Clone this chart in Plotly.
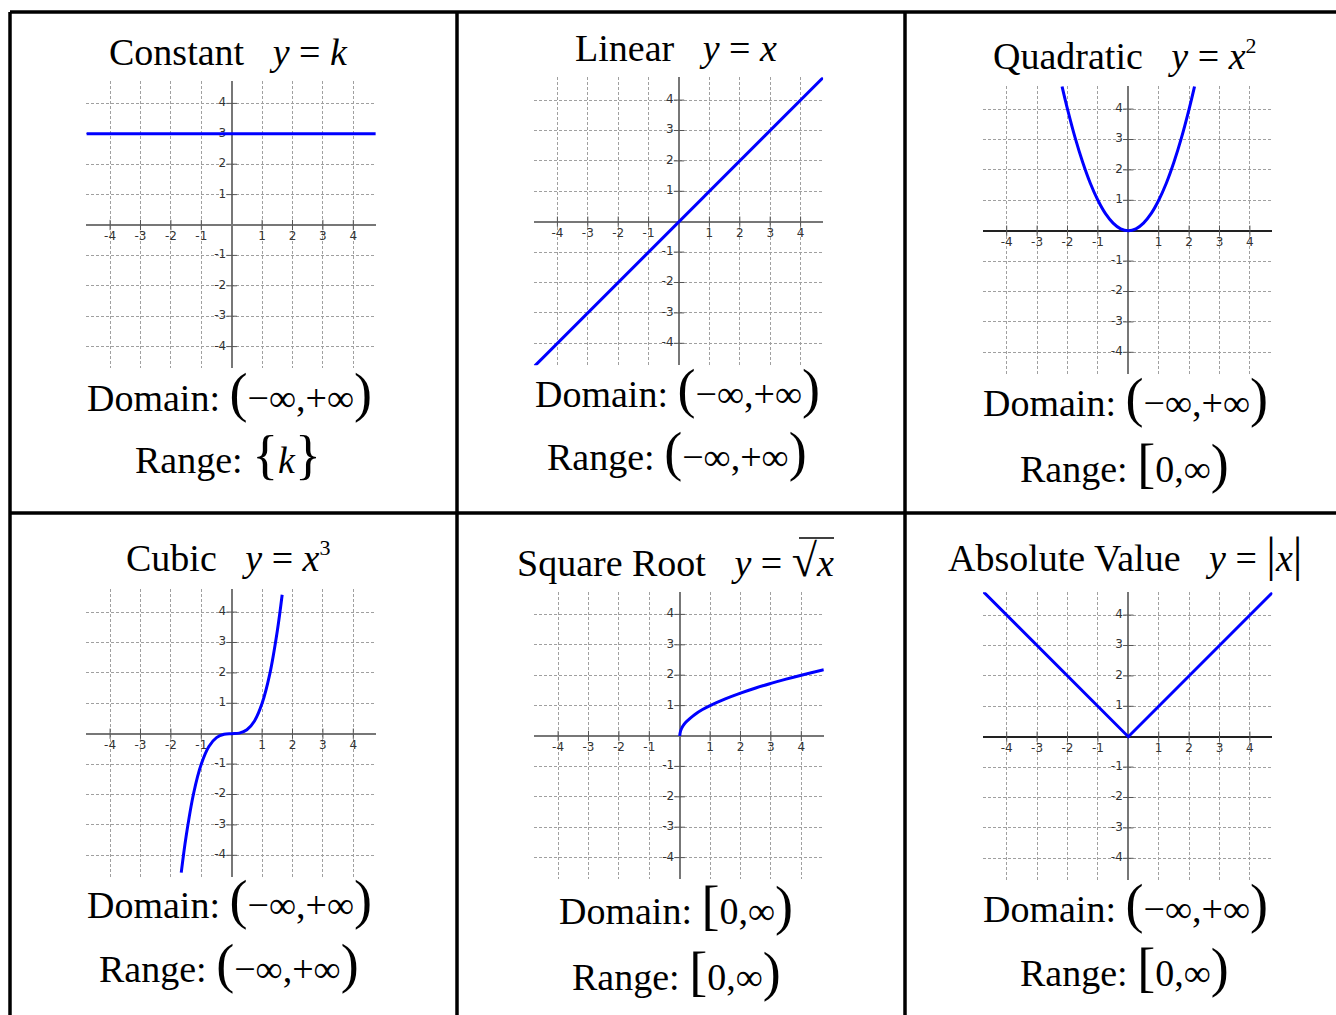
import plotly.graph_objects as go

# curve samples
constant_x = [-4.78, 4.74]
constant_y = [3, 3]

linear_x = [-4.75, 4.74]
linear_y = [-4.75, 4.74]

quadratic_x = [-2.18, -2, -1.75, -1.5, -1.25, -1, -0.75, -0.5, -0.25, 0, 0.25, 0.5, 0.75, 1, 1.25, 1.5, 1.75, 2, 2.18]
quadratic_y = [4.75, 4, 3.06, 2.25, 1.56, 1, 0.56, 0.25, 0.06, 0, 0.06, 0.25, 0.56, 1, 1.56, 2.25, 3.06, 4, 4.75]

cubic_x = [-1.66, -1.5, -1.25, -1, -0.75, -0.5, -0.25, 0, 0.25, 0.5, 0.75, 1, 1.25, 1.5, 1.66]
cubic_y = [-4.57, -3.38, -1.95, -1, -0.42, -0.13, -0.02, 0, 0.02, 0.13, 0.42, 1, 1.95, 3.38, 4.57]

sqrt_x = [0, 0.03, 0.1, 0.2, 0.35, 0.5, 0.75, 1, 1.5, 2, 2.5, 3, 3.5, 4, 4.74]
sqrt_y = [0, 0.17, 0.32, 0.45, 0.59, 0.71, 0.87, 1, 1.22, 1.41, 1.58, 1.73, 1.87, 2, 2.18]

abs_x = [-4.78, 0, 4.74]
abs_y = [4.78, 0, 4.74]

tick_vals = [-4, -3, -2, -1, 1, 2, 3, 4]
tick_text = ["-4", "-3", "-2", "-1", "1", "2", "3", "4"]

SUP = "<sup><span style='font-size:22px'>%s</span></sup>"
titles = [
    "Constant\u2002 <i>y</i> = <i>k</i>",
    "Linear\u2002 <i>y</i> = <i>x</i>",
    "Quadratic\u2002 <i>y</i> = <i>x</i>" + SUP % "2",
    "Cubic\u2002 <i>y</i> = <i>x</i>" + SUP % "3",
    "Square Root\u2002 <i>y</i> = <span style='font-size:46px'>\u221a</span><i>x</i>",
    "Absolute Value\u2002 <i>y</i> = <span style='font-size:48px'>|</span><i>x</i><span style='font-size:48px'>|</span>",
]

BIG = "<span style='font-size:54px'>%s</span>"
all_reals = BIG % "(" + "\u2212\u221e,+\u221e" + BIG % ")"
half_line = BIG % "[" + "0,\u221e" + BIG % ")"
domains = [all_reals, all_reals, all_reals, all_reals, half_line, all_reals]
ranges = [BIG % "{" + "<i>k</i>" + BIG % "}", all_reals, half_line, all_reals, half_line, half_line]

curves = [
    (constant_x, constant_y, "linear"),
    (linear_x, linear_y, "linear"),
    (quadratic_x, quadratic_y, "spline"),
    (cubic_x, cubic_y, "spline"),
    (sqrt_x, sqrt_y, "spline"),
    (abs_x, abs_y, "linear"),
]

# pixel layout of the page
W, H = 1336, 1015
SCALE = 30.4
XR = [-4.78, 4.74]
YR = [-4.72, 4.75]
origins = [(231.7, 225), (679, 221.7), (1128.3, 230.7), (231.7, 733.7), (679.7, 736), (1128.3, 736.7)]
title_pos = [(228, 52), (676, 48), (1125, 55), (228, 557), (675, 560), (1125, 554)]
domain_pos = [(229, 393), (677, 389), (1125, 398), (229, 900), (676, 906), (1125, 904)]
range_pos = [(228, 455), (677, 452), (1124, 464), (229, 964), (676, 972), (1124, 968)]
vaxis_color = ["#777777", "#777777", "#222222", "#777777", "#777777", "#222222"]


def px(x):
    return x / W


def py(y):
    return 1 - y / H


fig = go.Figure()
layout = {}
tk = 0.17

for i in range(6):
    n = "" if i == 0 else str(i + 1)
    ox, oy = origins[i]
    layout["xaxis" + n] = dict(
        domain=[px(ox + XR[0] * SCALE), px(ox + XR[1] * SCALE)],
        range=XR, anchor="y" + n, tickvals=tick_vals, showticklabels=False,
        showgrid=True, gridcolor="#a0a0a0", gridwidth=1, griddash="3px,2px",
        zeroline=True, zerolinecolor="#777777", zerolinewidth=2,
        showline=False, ticks="", fixedrange=True,
    )
    layout["yaxis" + n] = dict(
        domain=[py(oy - YR[0] * SCALE), py(oy - YR[1] * SCALE)],
        range=YR, anchor="x" + n, tickvals=tick_vals, showticklabels=False,
        showgrid=True, gridcolor="#a0a0a0", gridwidth=1, griddash="3px,2px",
        zeroline=True, zerolinecolor=vaxis_color[i], zerolinewidth=2,
        showline=False, ticks="", fixedrange=True,
    )
    xa, ya = "x" + n, "y" + n

    # tick marks crossing the axes
    sx, sy = [], []
    for t in tick_vals:
        sx += [t, t, None]
        sy += [-tk, tk, None]
    fig.add_trace(go.Scatter(x=sx, y=sy, mode="lines", line=dict(color="#555555", width=1),
                             xaxis=xa, yaxis=ya, hoverinfo="skip"))
    sx, sy = [], []
    for t in tick_vals:
        sx += [-tk, tk, None]
        sy += [t, t, None]
    fig.add_trace(go.Scatter(x=sx, y=sy, mode="lines", line=dict(color="#555555", width=1),
                             xaxis=xa, yaxis=ya, hoverinfo="skip"))

    # tick labels
    fig.add_trace(go.Scatter(x=tick_vals, y=[-0.2] * len(tick_vals), mode="text", text=tick_text,
                             textposition="bottom center", cliponaxis=False,
                             textfont=dict(family="DejaVu Sans", size=12, color="#333333"),
                             xaxis=xa, yaxis=ya, hoverinfo="skip"))
    fig.add_trace(go.Scatter(x=[-0.18] * len(tick_vals), y=tick_vals, mode="text", text=tick_text,
                             textposition="middle left", cliponaxis=False,
                             textfont=dict(family="DejaVu Sans", size=12, color="#333333"),
                             xaxis=xa, yaxis=ya, hoverinfo="skip"))

    cx, cy, shape = curves[i]
    fig.add_trace(go.Scatter(x=cx, y=cy, mode="lines", line=dict(color="#0000ff", width=3, shape=shape),
                             xaxis=xa, yaxis=ya, hoverinfo="skip"))

annotations = []
font = dict(family="Liberation Serif", size=38, color="black")
for i in range(6):
    for (x, y), txt in [(title_pos[i], titles[i]),
                        (domain_pos[i], "Domain: " + domains[i]),
                        (range_pos[i], "Range: " + ranges[i])]:
        annotations.append(dict(x=px(x), y=py(y), xref="paper", yref="paper", text=txt,
                                showarrow=False, xanchor="center", yanchor="middle", font=font))

# cell borders
shapes = []
bw = 3.5
for x in [10, 457, 905]:
    shapes.append(dict(type="line", xref="paper", yref="paper", x0=px(x), x1=px(x),
                       y0=py(12), y1=py(1020), line=dict(color="black", width=bw)))
for y in [12, 513]:
    shapes.append(dict(type="line", xref="paper", yref="paper", x0=px(10), x1=px(1340),
                       y0=py(y), y1=py(y), line=dict(color="black", width=bw)))
# radical bar over x
shapes.append(dict(type="line", xref="paper", yref="paper", x0=px(799), x1=px(834),
                   y0=py(538), y1=py(538), line=dict(color="black", width=1.5)))

fig.update_layout(
    **layout,
    width=W, height=H,
    margin=dict(l=0, r=0, t=0, b=0),
    paper_bgcolor="white", plot_bgcolor="white",
    showlegend=False,
    annotations=annotations,
    shapes=shapes,
)

fig.write_html("out.html", config={"displayModeBar": False},
               post_script="document.body.style.margin='0';")
